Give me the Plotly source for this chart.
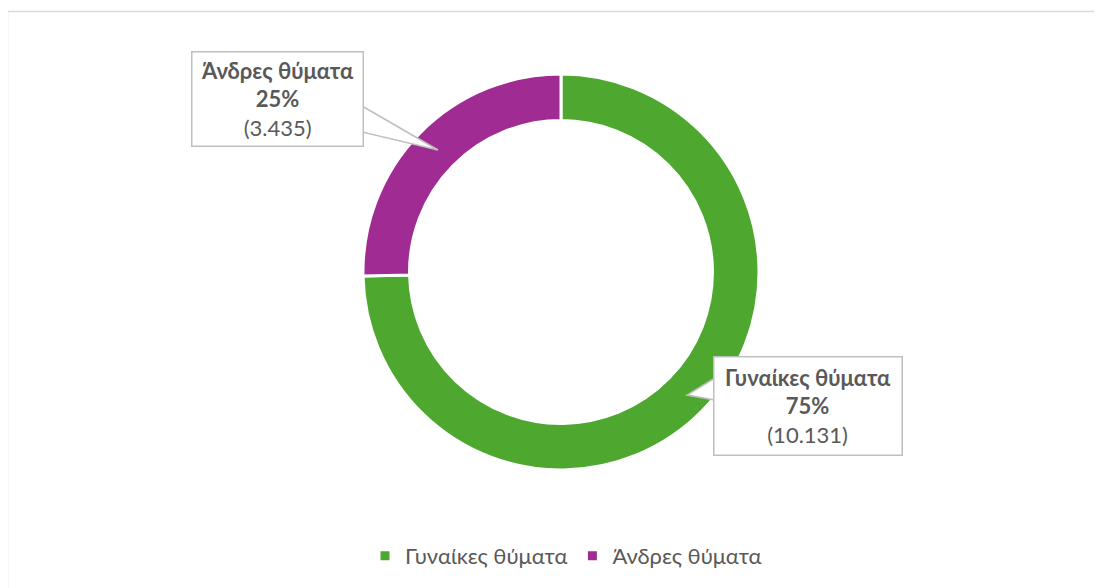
import plotly.graph_objects as go

labels = ["Γυναίκες θύματα", "Άνδρες θύματα"]
values = [10131, 3435]
value_text = ["10.131", "3.435"]
pct_text = ["75%", "25%"]
colors = ["#4EA72E", "#A02B93"]

# page body has an 8px margin; the figure is sized to fill the rest of the window
OFF = 8
W, H = 1102 - OFF, 588 - OFF
cx, cy, R = 561 - OFF, 272 - OFF, 198


def px(x, y):
    """window pixel -> paper coords"""
    return (x - OFF) / W, 1 - (y - OFF) / H


fig = go.Figure(go.Pie(
    labels=labels,
    values=values,
    hole=0.765,
    sort=False,
    direction="clockwise",
    rotation=0,
    marker=dict(colors=colors, line=dict(color="white", width=3)),
    textinfo="none",
    hoverinfo="label+value+percent",
    domain=dict(x=[(cx - R) / W, (cx + R) / W], y=[(H - cy - R) / H, (H - cy + R) / H]),
))

font_family = "Lato, 'Open Sans', sans-serif"
gray = "#595959"
edge = "#BFBFBF"

# wedge pointers (drawn first, boxes cover their bases)
a, b, c = px(362, 106), px(438, 150), px(362, 132)
fig.add_shape(type="path", xref="paper", yref="paper",
              path=f"M {a[0]} {a[1]} L {b[0]} {b[1]} L {c[0]} {c[1]} Z",
              line=dict(color=edge, width=1.5), fillcolor="white", layer="above")
a, b, c = px(715, 378), px(687, 395), px(715, 400)
fig.add_shape(type="path", xref="paper", yref="paper",
              path=f"M {a[0]} {a[1]} L {b[0]} {b[1]} L {c[0]} {c[1]} Z",
              line=dict(color=edge, width=1.5), fillcolor="white", layer="above")

# callout for men
p = px(277, 99)
fig.add_annotation(
    xref="paper", yref="paper", x=p[0], y=p[1], xanchor="center", yanchor="middle",
    text=f"<b>{labels[1]}</b><br><b>{pct_text[1]}</b><br>({value_text[1]})",
    showarrow=False, align="center",
    font=dict(family=font_family, size=22, color=gray),
    bordercolor=edge, borderwidth=1.5, bgcolor="white",
    width=166, height=89, borderpad=2,
)

# callout for women
p = px(808, 406)
fig.add_annotation(
    xref="paper", yref="paper", x=p[0], y=p[1], xanchor="center", yanchor="middle",
    text=f"<b>{labels[0]}</b><br><b>{pct_text[0]}</b><br>({value_text[0]})",
    showarrow=False, align="center",
    font=dict(family=font_family, size=22, color=gray),
    bordercolor=edge, borderwidth=1.5, bgcolor="white",
    width=183, height=93, borderpad=2,
)

# chart border
b0 = px(7.5, 11.5)
fig.add_shape(type="rect", xref="paper", yref="paper",
              x0=b0[0], x1=1.02, y0=-0.02, y1=b0[1],
              line=dict(color="#D9D9D9", width=1.5), layer="below")

lg = px(566, 556)
fig.update_layout(
    width=W, height=H,
    margin=dict(l=0, r=0, t=0, b=0),
    paper_bgcolor="white",
    plot_bgcolor="white",
    showlegend=True,
    legend=dict(orientation="h", x=lg[0], xanchor="center", y=lg[1], yanchor="middle",
                font=dict(family=font_family, size=22, color=gray),
                itemwidth=30, traceorder="normal"),
)

fig.write_html("out.html")
